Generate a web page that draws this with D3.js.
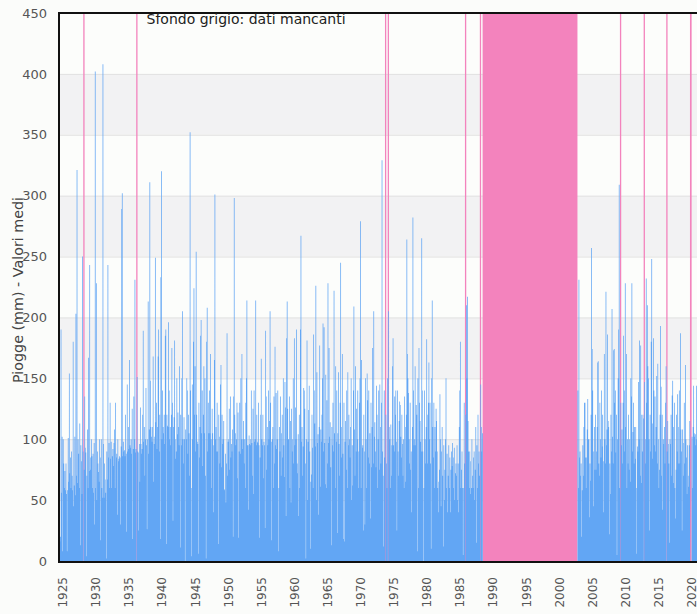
<!DOCTYPE html>
<html>
<head>
<meta charset="utf-8">
<script src="https://cdn.jsdelivr.net/npm/d3@7"></script>
<style>
  body { margin: 0; background: #fbfcfa; }
  text { font-family: "DejaVu Sans", sans-serif; }
</style>
</head>
<body>
<div id="chart"></div>
<script>
// monthly rainfall (mm), one row per year Jan..Dec, null = missing month
const firstYear = 1925;
const lastYear = 2021;

const rain1925_1944 = [
  21, 16, 20, 190, 56, 102, 8, 100, 80, 60, 74, 58,
  80, 55, 8, 58, 101, 65, 154, 72, 85, 60, 90, 70,
  58, 180, 45, 62, 102, 54, 203, 70, 321, 64, 100, 88,
  60, 113, 13, 95, 82, 55, 250, 90, null, 75, 135, 93,
  89, 4, 70, 108, 60, 167, 74, 243, 85, 75, 100, 86,
  60, 88, 56, 97, 30, 402, 60, 228, 50, 90, 80, 73,
  65, 100, 85, 17, 100, 60, 52, 408, 96, 52, 80, 67,
  56, 2, 90, 67, 243, 85, 97, 60, 130, 84, 98, 60,
  86, 92, 78, 97, 108, 60, 130, 85, 88, 38, 100, 82,
  84, 86, 85, 30, 94, 289, 302, 86, 98, 90, 91, 86,
  120, 88, 24, 145, 90, 110, 92, 165, 95, 93, 100, 88,
  125, 18, 92, 135, 100, 231, 89, 92, null, 151, 90, 25,
  89, 96, 65, 126, 96, 88, 92, 120, 189, 98, 110, 70,
  100, 142, 95, 26, 100, 213, 88, 108, 311, 148, 110, 102,
  98, 110, 168, 65, 96, 102, 249, 114, 130, 92, 110, 168,
  190, 90, 120, 18, 233, 320, 100, 140, 110, 105, 120, 96,
  185, 190, 14, 120, 111, 110, 196, 140, 100, 110, 95, 120,
  175, 130, 33, 110, 118, 181, 100, 84, 90, 150, 104, 122,
  110, 95, 160, 11, 120, 95, 150, 205, 100, 80, 118, 100,
  0, 108, 100, 150, 140, 88, 120, 105, 70, 352, 140, 60
];

const rain1945_1964 = [
  4, 145, 100, 180, 224, 120, 160, 90, 254, 120, 98, 96,
  6, 130, 85, 110, 185, 198, 105, 140, 78, 120, 160, 105,
  150, 70, 2, 180, 208, 90, 130, 105, 140, 105, 170, 100,
  60, 125, 105, 40, 95, 165, 301, 100, 110, 90, 130, 90,
  14, 120, 102, 80, 145, 161, 77, 120, 96, 100, 115, 59,
  58, 88, 48, 80, 187, 70, 98, 100, 125, 75, 135, 85,
  96, 90, 108, 20, 135, 298, 120, 105, 95, 100, 130, 68,
  122, 19, 90, 130, 88, 150, 100, 170, 92, 100, 115, 80,
  100, 60, 130, 150, 214, 95, 95, 42, 103, 96, 95, 100,
  140, 97, 70, 125, 55, 140, 98, 100, 214, 95, 120, 98,
  97, 130, 95, 19, 85, 120, 166, 100, 95, 120, 68, 98,
  95, 27, 189, 135, 75, 110, 95, 140, 100, 115, 205, 130,
  98, 17, 100, 110, 60, 135, 80, 176, 95, 138, 92, 100,
  140, 8, 60, 110, 90, 135, 70, 105, 120, 85, 150, 95,
  69, 147, 126, 37, 183, 213, 125, 100, 100, 135, 60, 115,
  48, 125, 90, 100, 150, 80, 183, 95, 126, 100, 190, 80,
  72, 104, 37, 120, 60, 190, 267, 98, 110, 70, 94, 142,
  140, 125, 80, 2, 100, 181, 50, 98, 124, 144, 90, 10,
  65, 71, 120, 93, 60, 186, 140, 113, 94, 226, 50, 155,
  97, 104, 38, 110, 177, 61, 108, 98, 120, 150, 195, 90
];

const rain1965_1988 = [
  192, 97, 63, 153, 60, 132, 80, 228, 97, 175, 102, 114,
  77, 13, 110, 95, 130, 90, 222, 105, 60, 160, 98, 140,
  23, 105, 155, 96, 70, 130, 245, 85, 110, 170, 88, 18,
  130, 16, 98, 115, 75, 140, 60, 155, 95, 120, 100, 85,
  110, 150, 50, 95, 62, 140, 209, 108, 70, 160, 90, 125,
  100, 140, 60, 90, 130, 150, 279, 60, 165, 93, 95, 25,
  120, 90, 30, 150, 100, 60, 154, 132, 85, 140, 80, 105,
  35, 130, 77, 110, 175, 80, 205, 102, 114, 90, 77, 144,
  120, 60, 100, 140, 75, 145, 110, 80, 130, 329, 90, 70,
  12, 140, 85, null, 120, 80, 60, 150, null, 205, 110, 100,
  60, 112, 70, 95, 160, 183, 95, 90, 135, 120, 140, 98,
  25, 140, 90, 70, 115, 131, 128, 102, 85, 120, 96, 70,
  100, 60, 135, 110, 65, 120, 264, 170, 150, 138, 100, 80,
  130, 75, 90, 40, 110, 282, 140, 95, 100, 160, 95, 128,
  120, 8, 150, 60, 175, 130, 115, 98, 90, 265, 140, 90,
  0, 60, 140, 100, 80, 110, 182, 120, 80, 130, 163, 100,
  130, 80, 10, 150, 214, 110, 85, 130, 60, 110, 90, 125,
  115, 90, 60, 40, 65, 75, 137, 100, 45, 90, 110, 70,
  12, 95, 50, 75, 100, 150, 60, 88, 40, 70, 95, 60,
  85, 40, 75, 90, 78, 97, 60, 85, 93, 50, 72, 80,
  70, 95, 50, 80, 40, 110, 140, 180, 60, 75, 90, 60,
  5, 60, 130, 80, null, 120, 210, 150, 217, 115, 90, 60,
  90, 82, 55, 60, 100, 70, 60, 85, 90, 50, 75, 110,
  15, 95, 60, 120, 80, 90, 70, null, 145, 110, 90, 105
];

// 1989-2002: no data at all
const gapYears = [1989, 2002];

const rain2003_2021 = [
  null, null, null, null, 140, 60, 231, 85, 90, 70, 80, 20,
  58, 95, 70, 110, 130, 130, 85, 60, 85, 108, 133, 100,
  100, 36, 80, 66, 120, 257, 174, 140, 45, 90, 110, 75,
  120, 75, 90, 110, 163, 164, 80, 70, 130, 100, 85, 140,
  94, 120, 82, 40, 170, 100, 80, 221, 95, 108, 186, 115,
  110, 22, 80, 55, 120, 90, 207, 102, 80, 173, 174, 130,
  140, 89, 120, 5, 100, 150, 190, 309, 60, null, 130, 95,
  108, 80, 130, 185, 90, 140, 228, 110, 170, 60, 100, 80,
  120, 75, 100, 65, 150, 135, 228, 90, 106, 130, 80, 110,
  84, 110, 60, 6, 94, 90, 147, 100, 181, 70, 177, 120,
  64, 90, 120, 117, null, 147, 80, 100, 232, 130, 210, 160,
  150, 100, 25, 120, 90, 180, 248, 113, 84, 183, 140, 95,
  135, 90, 110, 152, 80, 162, 100, 60, 75, 120, 193, 143,
  70, 120, 42, 100, 96, 110, 80, 130, 160, null, 90, 115,
  96, 80, 15, 100, 96, 120, 70, 136, 148, 64, 110, 130,
  60, 35, 75, 120, 90, 137, 80, 110, 140, 80, 187, 108,
  90, 25, 108, 70, 97, 130, 80, 161, 100, 85, 55, 95,
  70, 61, 95, 115, null, null, null, 102, 60, 110, 144, 105,
  102, 104, 95, 144, 100, 105, 70, 80, 90, 110, 130, 100
];

const yTicks = [0, 50, 100, 150, 200, 250, 300, 350, 400, 450];
const xTickYears = d3.range(1925, 2021, 5);

const title = "Sfondo grigio: dati mancanti";
const yTitle = "Piogge (mm) - Valori medi";

// ---- build the monthly series
const months = [];
for (let yr = firstYear; yr <= lastYear; yr++) {
  for (let m = 1; m <= 12; m++) months.push(yr + "-" + String(m).padStart(2, "0"));
}
const gapValues = [];
for (let yr = gapYears[0]; yr <= gapYears[1]; yr++) for (let m = 0; m < 12; m++) gapValues.push(null);
const values = [].concat(rain1925_1944, rain1945_1964, rain1965_1988, gapValues, rain2003_2021);
const series = months.map((mo, i) => ({ month: mo, value: values[i] }));

// runs of missing months
const runs = [];
series.forEach((d, i) => {
  if (d.value !== null) return;
  const last = runs[runs.length - 1];
  if (last && last.end === i - 1) last.end = i;
  else runs.push({ start: i, end: i });
});

const W = 697, H = 614;
const margin = { top: 13, left: 59 };
const plotRight = 701;
const plotBottom = 561;

const x = d3.scaleBand().domain(months).range([margin.left, plotRight]).padding(0);
const y = d3.scaleLinear().domain([0, 450]).range([plotBottom, margin.top]);
const bw = x.bandwidth();
const barW = bw + 0.2;

const svg = d3.select("#chart").append("svg")
  .attr("width", W).attr("height", H)
  .style("display", "block");

svg.append("rect").attr("width", W).attr("height", H).attr("fill", "#fbfcfa");

// alternating background bands
const bands = yTicks.slice(0, -1);
svg.append("g").selectAll("rect").data(bands).join("rect")
  .attr("x", margin.left)
  .attr("width", plotRight - margin.left)
  .attr("y", d => y(d + 50))
  .attr("height", d => y(d) - y(d + 50))
  .attr("fill", d => (d / 50) % 2 === 1 ? "#f2f2f3" : "#fcfdfb");

svg.append("g").selectAll("line").data(yTicks).join("line")
  .attr("x1", margin.left).attr("x2", plotRight)
  .attr("y1", d => y(d) + 0.5).attr("y2", d => y(d) + 0.5)
  .attr("stroke", "#e1e1e1");

// missing data
svg.append("g").selectAll("rect").data(runs).join("rect")
  .attr("x", d => x(months[d.start]))
  .attr("width", d => Math.max(1.3, x(months[d.end]) + bw - x(months[d.start])))
  .attr("y", margin.top)
  .attr("height", plotBottom - margin.top)
  .attr("fill", "#f383bd");

// bars: one sub-path per month, so neighbouring bars blend without seams
const observed = series.filter(d => d.value !== null);
svg.append("path")
  .attr("class", "bars")
  .attr("fill", "#62a6f4")
  .attr("d", observed.map(d =>
    "M" + x(d.month) + "," + y(0) +
    "V" + y(d.value) +
    "H" + (x(d.month) + barW) +
    "V" + y(0) + "Z").join(""));

// axes
const yAxis = svg.append("g")
  .attr("transform", "translate(" + margin.left + ",0)")
  .call(d3.axisLeft(y).tickValues(yTicks).tickSize(0).tickPadding(12));
yAxis.select(".domain").remove();
yAxis.selectAll("text").attr("font-size", 13).attr("fill", "#555").attr("font-family", "DejaVu Sans");

const xAxis = svg.append("g")
  .attr("transform", "translate(0," + plotBottom + ")")
  .call(d3.axisBottom(x)
    .tickValues(xTickYears.map(yr => yr + "-01"))
    .tickFormat(d => d.slice(0, 4))
    .tickSize(0));
xAxis.select(".domain").remove();
xAxis.selectAll("text")
  .attr("transform", "rotate(-90)")
  .attr("text-anchor", "end")
  .attr("x", -16)
  .attr("y", 3.5)
  .attr("dy", "0.35em")
  .attr("font-size", 12)
  .attr("fill", "#555")
  .attr("font-family", "DejaVu Sans");

svg.append("line")
  .attr("x1", margin.left).attr("x2", margin.left)
  .attr("y1", margin.top - 1).attr("y2", plotBottom + 2)
  .attr("stroke", "#111").attr("stroke-width", 2);
svg.append("line")
  .attr("x1", margin.left - 1).attr("x2", W)
  .attr("y1", plotBottom + 1).attr("y2", plotBottom + 1)
  .attr("stroke", "#111").attr("stroke-width", 2);
svg.append("line")
  .attr("x1", margin.left - 1).attr("x2", W)
  .attr("y1", margin.top).attr("y2", margin.top)
  .attr("stroke", "#111").attr("stroke-width", 2);

svg.append("text")
  .attr("x", 146.5).attr("y", 24)
  .attr("font-size", 14).attr("fill", "#222")
  .text(title);

svg.append("text")
  .attr("transform", "translate(23,290) rotate(-90)")
  .attr("text-anchor", "middle")
  .attr("font-size", 14.3).attr("fill", "#444")
  .text(yTitle);
</script>
</body>
</html>
